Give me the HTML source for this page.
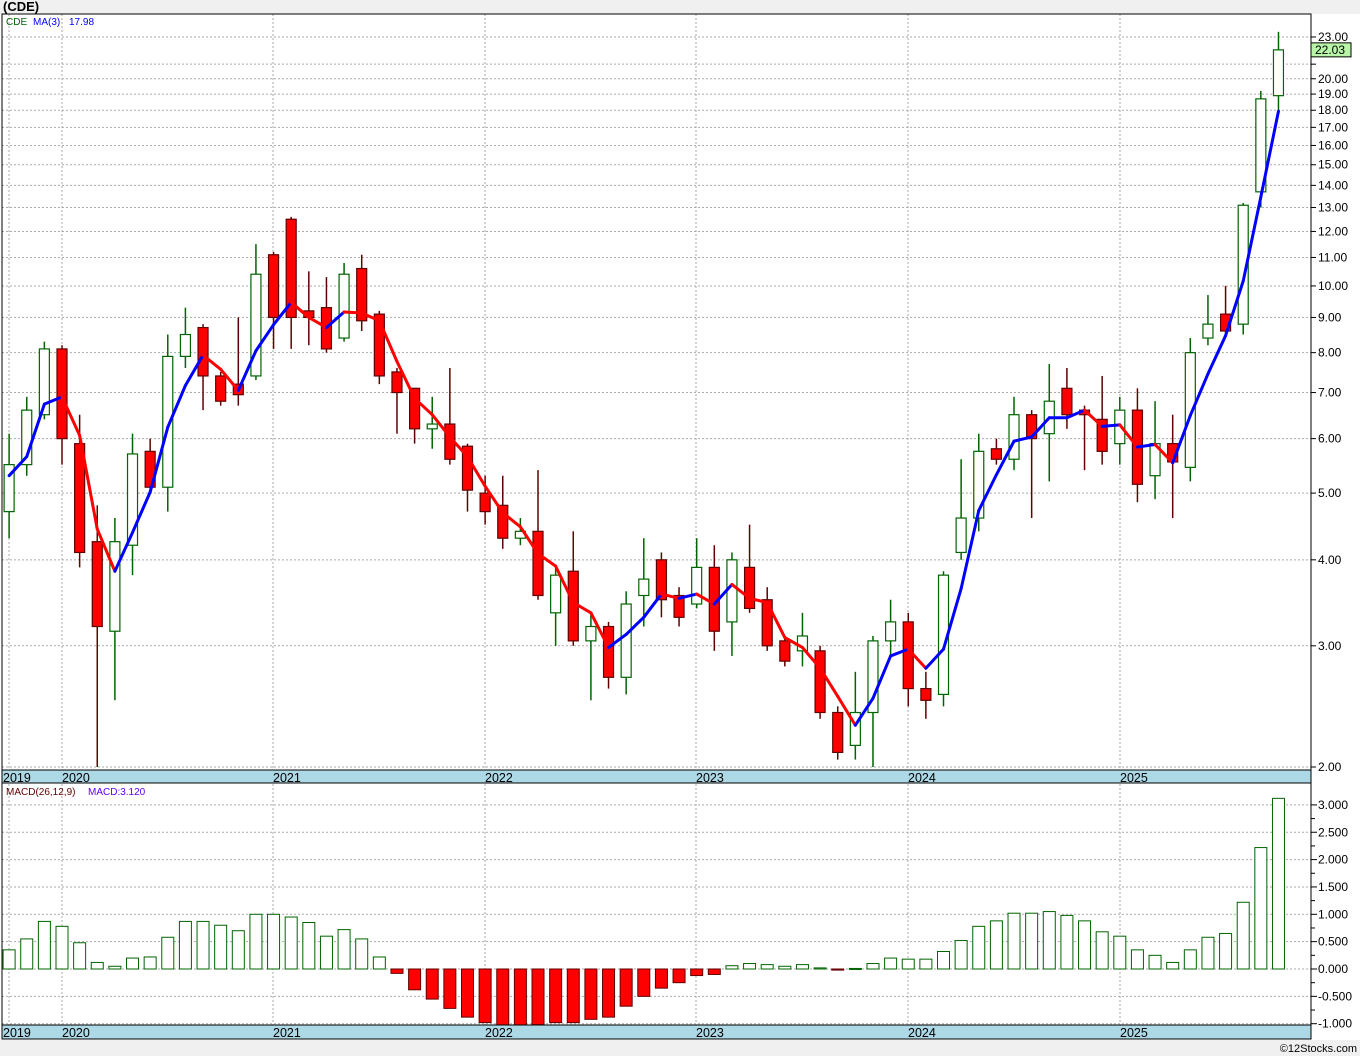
<!DOCTYPE html>
<html><head><meta charset="utf-8"><style>
body{margin:0;background:#f0f0f0;width:1360px;height:1056px;overflow:hidden}
svg{display:block}
text{font-family:"Liberation Sans",sans-serif}
</style></head><body>
<svg id="s" width="1360" height="1056" xmlns="http://www.w3.org/2000/svg"></svg>
<script>
const D=[
[4.7,6.1,4.3,5.5],[5.5,6.9,5.3,6.6],[6.5,8.3,6.4,8.1],[8.1,8.2,5.5,6.0],[5.9,6.5,3.9,4.1],[4.25,4.8,2.0,3.2],[3.15,4.6,2.5,4.25],[4.2,6.1,3.8,5.7],[5.75,6.0,5.0,5.1],[5.1,8.5,4.7,7.9],
[7.9,9.3,7.6,8.5],[8.7,8.8,6.6,7.4],[7.4,7.5,6.7,6.8],[7.2,9.0,6.7,6.95],[7.4,11.5,7.3,10.4],[11.1,11.2,8.1,9.0],[12.5,12.6,8.1,9.0],[9.2,10.5,8.2,9.0],[9.3,10.3,8.0,8.1],[8.4,10.8,8.3,10.4],
[10.6,11.1,8.6,8.9],[9.1,9.2,7.2,7.4],[7.5,7.6,6.1,7.0],[7.1,7.1,5.9,6.2],[6.2,6.9,5.8,6.3],[6.3,7.6,5.5,5.6],[5.85,5.9,4.7,5.05],[5.0,5.3,4.5,4.7],[4.8,5.3,4.15,4.3],[4.3,4.6,4.2,4.4],
[4.4,5.4,3.5,3.55],[3.35,3.9,3.0,3.8],[3.85,4.4,3.0,3.05],[3.05,3.35,2.5,3.2],[3.2,3.25,2.6,2.7],[2.7,3.6,2.55,3.45],[3.55,4.3,3.2,3.75],[4.0,4.1,3.3,3.5],[3.55,3.65,3.2,3.3],[3.45,4.3,3.4,3.9],
[3.9,4.2,2.95,3.15],[3.25,4.1,2.9,4.0],[3.9,4.5,3.35,3.4],[3.5,3.65,2.95,3.0],[3.05,3.1,2.8,2.85],[2.95,3.35,2.8,3.1],[2.95,3.0,2.35,2.4],[2.4,2.45,2.05,2.1],[2.15,2.75,2.05,2.4],[2.4,3.1,2.0,3.05],
[3.05,3.5,2.9,3.25],[3.25,3.35,2.45,2.6],[2.6,2.75,2.35,2.5],[2.55,3.85,2.45,3.8],[4.1,5.6,4.0,4.6],[4.6,6.1,4.4,5.75],[5.8,6.0,5.5,5.6],[5.6,6.9,5.4,6.5],[6.5,6.6,4.6,6.0],[6.1,7.7,5.2,6.8],
[7.1,7.6,6.2,6.5],[6.6,6.7,5.4,6.5],[6.4,7.4,5.5,5.75],[5.9,6.9,5.5,6.6],[6.6,7.1,4.85,5.15],[5.3,6.8,4.9,5.9],[5.9,6.5,4.6,5.55],[5.45,8.4,5.2,8.0],[8.4,9.7,8.2,8.8],[9.1,10.0,8.5,8.6],
[8.8,13.2,8.5,13.1],[13.7,19.2,13.0,18.7],[18.9,23.4,18.0,22.03]];
const M=[0.35,0.55,0.87,0.78,0.48,0.12,0.05,0.2,0.22,0.58,0.87,0.87,0.8,0.7,1.0,1.0,0.95,0.85,0.6,0.72,0.55,0.22,-0.08,-0.38,-0.55,-0.72,-0.88,-0.98,-1.03,-1.03,-1.02,-0.98,-0.98,-0.92,-0.88,-0.68,-0.5,-0.35,-0.25,-0.12,-0.1,0.06,0.1,0.08,0.05,0.08,0.02,-0.02,0.01,0.1,0.2,0.18,0.18,0.32,0.52,0.78,0.88,1.02,1.02,1.05,0.98,0.88,0.68,0.6,0.35,0.25,0.12,0.35,0.58,0.65,1.22,2.22,3.12];
const Y=p=>767-298.9*Math.log(p/2);
const X=i=>62+17.63*(i-3);
const MY=v=>969-54.7*v;
let h='';
h+='<rect x="0" y="14" width="1360" height="1026" fill="#fff"/>';
h+='<text x="3" y="11" font-size="13" font-weight="bold">(CDE)</text>';
const PL=[2,3,4,5,6,7,8,9,10,11,12,13,14,15,16,17,18,19,20,21,23];
PL.forEach(p=>{const y=Y(p);h+=`<line x1="2" x2="1311" y1="${y}" y2="${y}" stroke="#aaa" stroke-dasharray="2,2"/><line x1="1311" x2="1316" y1="${y}" y2="${y}" stroke="#000"/>`;
 if(p!=21)h+=`<text x="1318" y="${y+4}" font-size="12" fill="#000">${p.toFixed(2)}</text>`;});
const YRS=[[9,'2019'],[62,'2020'],[273,'2021'],[485,'2022'],[696,'2023'],[908,'2024'],[1120,'2025']];
YRS.forEach(([x])=>{h+=`<line x1="${x}" x2="${x}" y1="14" y2="770" stroke="#aaa" stroke-dasharray="2,2"/><line x1="${x}" x2="${x}" y1="784" y2="1025" stroke="#aaa" stroke-dasharray="2,2"/>`;});
for(let v=-1;v<=3;v+=0.5){const y=MY(v);h+=`<line x1="2" x2="1311" y1="${y}" y2="${y}" stroke="#aaa" stroke-dasharray="2,2"/><line x1="1311" x2="1317" y1="${y}" y2="${y}" stroke="#000"/><text x="1318" y="${y+4}" font-size="12">${v.toFixed(3)}</text>`;
 if(v<3){const y2=MY(v+0.25);h+=`<line x1="1311" x2="1315" y1="${y2}" y2="${y2}" stroke="#000"/>`;}}
D.forEach((d,i)=>{const [o,hi,lo,c]=d;const x=X(i);const up=c>=o;const col=up?'#006400':'#600000';
 h+=`<line x1="${x}" x2="${x}" y1="${Y(hi)}" y2="${Y(lo)}" stroke="${col}" stroke-width="1.5"/>`;
 const t=Y(Math.max(o,c)),b=Y(Math.min(o,c));
 h+=`<rect x="${x-5}" y="${t}" width="10" height="${Math.max(b-t,1)}" fill="${up?'#fff':'#f00'}" stroke="${col}" stroke-width="1.2"/>`;});
let ma=[5.3,5.65];for(let i=2;i<D.length;i++)ma.push((D[i][3]+D[i-1][3]+D[i-2][3])/3);
for(let i=1;i<ma.length;i++){const col=ma[i]>=ma[i-1]?'#0000ff':'#ff0000';
 h+=`<line x1="${X(i-1)}" y1="${Y(ma[i-1])}" x2="${X(i)}" y2="${Y(ma[i])}" stroke="${col}" stroke-width="3" stroke-linecap="round"/>`;}
M.forEach((v,i)=>{const x=X(i);const y=MY(Math.max(v,0)),y2=MY(Math.min(v,0));
 h+=`<rect x="${x-6}" y="${y}" width="12" height="${Math.max(y2-y,1)}" fill="${v>=0?'#fff':'#f00'}" stroke="${v>=0?'#006400':'#600000'}" stroke-width="1"/>`;});
h+='<rect x="2" y="770" width="1309" height="13" fill="#add8e6" stroke="#000"/>';
h+='<rect x="2" y="1025" width="1309" height="14" fill="#add8e6" stroke="#000"/>';
YRS.forEach(([x,t])=>{h+=`<text x="${x===9?3:x}" y="782" font-size="12.5">${t}</text><text x="${x===9?3:x}" y="1037" font-size="12.5">${t}</text>`;});
h+='<rect x="2" y="14" width="1309" height="1025" fill="none" stroke="#000"/>';
h+='<line x1="1311" y1="14" x2="1311" y2="1039" stroke="#000"/>';
h+='<text x="6" y="25" font-size="10" fill="#006400">CDE</text><text x="33" y="25" font-size="10" fill="#0000ff">MA(3)</text><text x="69" y="25" font-size="10" fill="#0000ff">17.98</text>';
h+='<text x="6" y="795" font-size="10" fill="#600000">MACD(26,12,9)</text><text x="88" y="795" font-size="10" fill="#6000ff">MACD:3.120</text>';
const py=Y(22.03);h+=`<rect x="1311" y="${py-7}" width="40" height="14" fill="#b8f5a8" stroke="#000"/><text x="1315" y="${py+4}" font-size="12">22.03</text>`;
h+='<text x="1357" y="1052" font-size="11" text-anchor="end">©12Stocks.com</text>';
document.getElementById('s').innerHTML=h;
</script>
</body></html>
